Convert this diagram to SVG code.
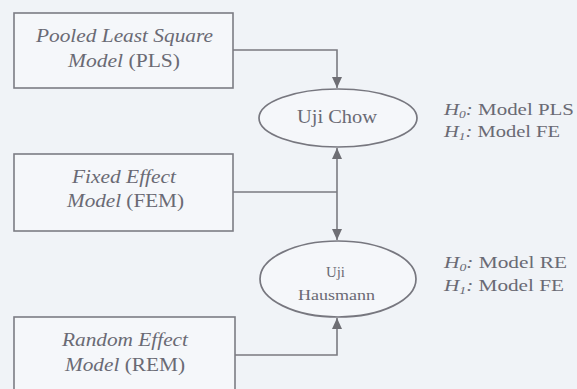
<svg xmlns="http://www.w3.org/2000/svg" width="577" height="389" viewBox="0 0 577 389">
<style>
  .bg{fill:#f0f3f7}
  .box{fill:#f5f7fa;stroke:#7c7c84;stroke-width:1.6}
  .ell{fill:#f5f7fa;stroke:#77777f;stroke-width:1.7}
  .conn{fill:none;stroke:#7a7a80;stroke-width:1.6}
  text{font-family:"Liberation Serif","Times New Roman",serif;fill:#6a6a74}
  .t{font-size:18px}
  .it{font-style:italic}
  .h{font-size:17px}
  .sub{font-size:11px;font-style:italic}
</style>
<defs>
  <marker id="arr" viewBox="0 0 11 10" refX="11" refY="5" markerWidth="11" markerHeight="10" markerUnits="userSpaceOnUse" orient="auto-start-reverse">
    <path d="M0,0 L11,5 L0,10 z" fill="#6e6e74"/>
  </marker>
</defs>
<rect class="bg" x="0" y="0" width="577" height="389"/>

<g id="connectors">
  <path class="conn" d="M233,50 H337 V88" marker-end="url(#arr)"/>
  <path class="conn" d="M337,148 V240" marker-start="url(#arr)" marker-end="url(#arr)"/>
  <path class="conn" d="M233,192 H337"/>
  <path class="conn" d="M235,355 H337 V318" marker-end="url(#arr)"/>
</g>

<g id="pls">
  <rect class="box" x="14" y="13" width="219" height="75"/>
  <text class="t" x="36" y="42" textLength="177" lengthAdjust="spacingAndGlyphs"><tspan class="it">Pooled Least Square</tspan></text>
  <text class="t" x="68" y="67" textLength="112" lengthAdjust="spacingAndGlyphs"><tspan class="it">Model</tspan> (PLS)</text>
</g>

<g id="fem">
  <rect class="box" x="14" y="154" width="219" height="77"/>
  <text class="t" x="72" y="183" textLength="104" lengthAdjust="spacingAndGlyphs"><tspan class="it">Fixed Effect</tspan></text>
  <text class="t" x="67" y="207" textLength="117" lengthAdjust="spacingAndGlyphs"><tspan class="it">Model</tspan> (FEM)</text>
</g>

<g id="rem">
  <rect class="box" x="14" y="317" width="221" height="80"/>
  <text class="t" x="62" y="346" textLength="126" lengthAdjust="spacingAndGlyphs"><tspan class="it">Random Effect</tspan></text>
  <text class="t" x="65" y="371" textLength="120" lengthAdjust="spacingAndGlyphs"><tspan class="it">Model</tspan> (REM)</text>
</g>

<g id="chow">
  <ellipse class="ell" cx="338" cy="118" rx="79" ry="29"/>
  <text class="t" x="297" y="123" textLength="80" lengthAdjust="spacingAndGlyphs">Uji Chow</text>
</g>

<g id="hausmann">
  <ellipse class="ell" cx="338" cy="279" rx="78" ry="38"/>
  <text x="326" y="277" style="font-size:15px" textLength="19" lengthAdjust="spacingAndGlyphs">Uji</text>
  <text x="298" y="300" style="font-size:15px" textLength="77" lengthAdjust="spacingAndGlyphs">Hausmann</text>
</g>

<g id="hyp-chow">
  <text class="h" x="444" y="115" textLength="130" lengthAdjust="spacingAndGlyphs"><tspan class="it">H</tspan><tspan class="sub" dy="3">0</tspan><tspan class="it" dy="-3">:</tspan> Model PLS</text>
  <text class="h" x="444" y="137" textLength="116" lengthAdjust="spacingAndGlyphs"><tspan class="it">H</tspan><tspan class="sub" dy="3">1</tspan><tspan class="it" dy="-3">:</tspan> Model FE</text>
</g>

<g id="hyp-hausmann">
  <text class="h" x="444" y="268" textLength="123" lengthAdjust="spacingAndGlyphs"><tspan class="it">H</tspan><tspan class="sub" dy="3">0</tspan><tspan class="it" dy="-3">:</tspan> Model RE</text>
  <text class="h" x="444" y="291" textLength="120" lengthAdjust="spacingAndGlyphs"><tspan class="it">H</tspan><tspan class="sub" dy="3">1</tspan><tspan class="it" dy="-3">:</tspan> Model FE</text>
</g>
</svg>
